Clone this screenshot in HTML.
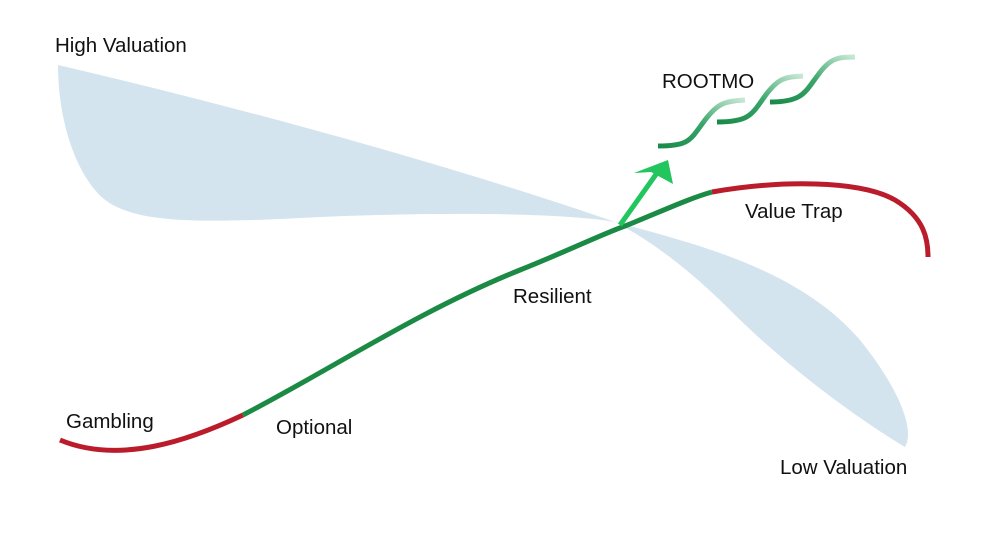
<!DOCTYPE html>
<html><head><style>
body{margin:0;background:#fff;}
svg{display:block;font-family:"Liberation Sans",sans-serif;}
</style></head><body>
<svg width="1000" height="547" viewBox="0 0 1000 547">
<defs>
<linearGradient id="g" x1="0" y1="1" x2="1" y2="0">
<stop offset="0" stop-color="#1a8a4a"/><stop offset="0.5" stop-color="#3aa66a"/><stop offset="1" stop-color="#c8e8d6"/>
</linearGradient>
</defs>
<path d="M58,65 C250,110 450,165 615,222 C560,212 420,212 300,218 C180,224 120,222 95,190 C70,160 58,110 58,65 Z" fill="#d3e4ee"/>
<path d="M615,222 C700,245 800,270 860,340 C900,390 915,430 905,447 C860,420 790,370 730,310 C680,260 640,235 615,222 Z" fill="#d3e4ee"/>
<path d="M60,440 C120,465 190,440 243,415" stroke="#bb1c2c" stroke-width="5" fill="none"/>
<path d="M243,415 C330,370 420,310 520,270 C570,250 600,235 625,226 C660,212 690,198 712,192" stroke="#1a8a44" stroke-width="5" fill="none"/>
<path d="M712,192 C780,180 860,180 895,200 C925,218 928,240 928,257" stroke="#bb1c2c" stroke-width="5" fill="none"/>
<path d="M620,225 L657,173" stroke="#22c55e" stroke-width="5" fill="none"/>
<path d="M668,160 L634,173 L651,172 L673,184 Z" fill="#22c55e"/>
<g stroke="url(#g)" stroke-width="5" fill="none">
<path d="M658,146 C690,146 690,140 705,120 C718,103 725,101 745,100"/>
<path d="M717,122 C750,122 752,114 765,96 C778,78 785,77 803,76"/>
<path d="M770,102 C803,102 805,92 818,75 C830,58 838,57 855,57"/>
</g>
<g font-size="20.5" fill="#111">
<text x="55" y="52">High Valuation</text>
<text x="662" y="88">ROOTMO</text>
<text x="745" y="218">Value Trap</text>
<text x="513" y="303">Resilient</text>
<text x="66" y="428">Gambling</text>
<text x="276" y="434">Optional</text>
<text x="780" y="474">Low Valuation</text>
</g>
</svg>
</body></html>
